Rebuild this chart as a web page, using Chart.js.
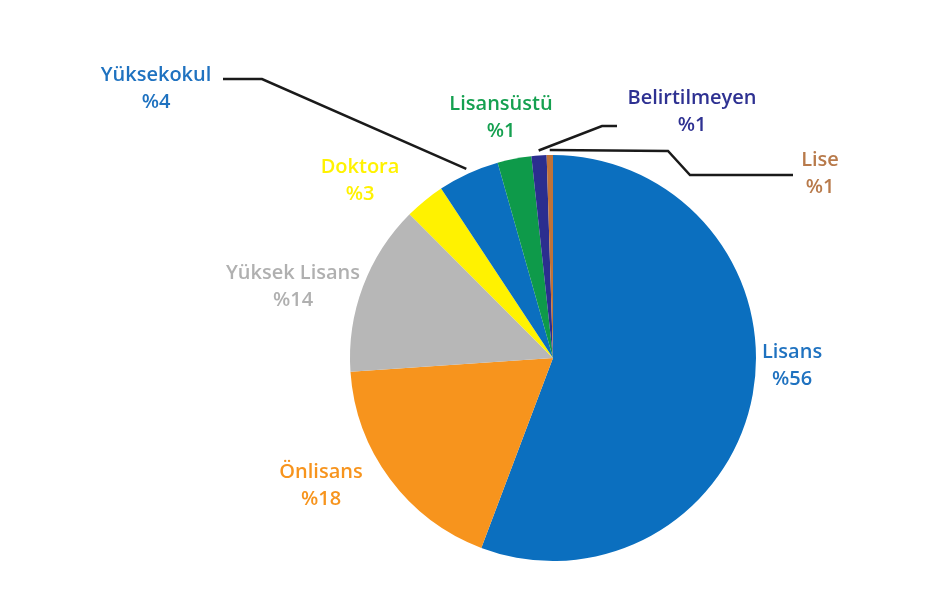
<!DOCTYPE html>
<html>
<head>
<meta charset="utf-8">
<script src="https://cdn.jsdelivr.net/npm/chart.js@4/dist/chart.umd.min.js"></script>
<style>
    html, body { margin: 0; padding: 0; background: #fff; }
    .wrap { width: 942px; height: 597px; position: relative; }
</style>
</head>
<body>
<div class="wrap"><canvas id="eduChart"></canvas></div>
<script>
// slices, clockwise from the top
var labels = ["Lisans", "Önlisans", "Yüksek Lisans", "Doktora", "Yüksekokul", "Lisansüstü", "Belirtilmeyen", "Lise"];
var values = [55.8, 18.2, 13.6, 3.2, 4.9, 2.7, 1.2, 0.5];
var shownPct = ["%56", "%18", "%14", "%3", "%4", "%1", "%1", "%1"];
var sliceColors = ["#0b6fbf", "#f7941d", "#b7b7b7", "#fff200", "#0b6fbf", "#0e9a4a", "#2b2e8f", "#c07238"];
var textColors = ["#1f72c0", "#f7941d", "#b0b0b0", "#fff200", "#1f72c0", "#15a050", "#2e3192", "#b87a4b"];

// label centre (first line) and leader line bends, by slice index
var labelPos = [
    [792, 352], [321, 472], [293, 273], [360, 167],
    [156, 75], [501, 104], [692, 98], [820, 160],
];
var leaders = {
    4: [[223, 79], [262, 79]],
    6: [[617, 126], [602, 126]],
    7: [[793, 175], [690, 175], [668, 151]],
};

var labelPlugin = {
    id: "labelPlugin",
    afterDraw: function (chart) {
        var ctx = chart.ctx;
        var arcs = chart.getDatasetMeta(0).data;
        ctx.save();

        // leader lines
        ctx.strokeStyle = "#1a1a1a";
        ctx.lineWidth = 2.5;
        Object.keys(leaders).forEach(function (k) {
            var arc = arcs[k];
            var mid = (arc.startAngle + arc.endAngle) / 2;
            var r = arc.outerRadius + 5;
            var pts = leaders[k];
            ctx.beginPath();
            ctx.moveTo(pts[0][0], pts[0][1]);
            for (var i = 1; i < pts.length; i++) ctx.lineTo(pts[i][0], pts[i][1]);
            ctx.lineTo(arc.x + Math.cos(mid) * r, arc.y + Math.sin(mid) * r);
            ctx.stroke();
        });

        // texts
        ctx.font = "600 20px 'Open Sans'";
        ctx.textAlign = "center";
        ctx.textBaseline = "middle";
        labels.forEach(function (name, i) {
            var p = labelPos[i];
            ctx.fillStyle = textColors[i];
            ctx.fillText(name, p[0], p[1]);
            ctx.fillText(shownPct[i], p[0], p[1] + 27);
        });
        ctx.restore();
    },
};

var eduChartElem = document.getElementById("eduChart");
var eduChart = new Chart(eduChartElem, {
    type: "pie",
    data: {
        labels: labels,
        datasets: [
            {
                data: values,
                backgroundColor: sliceColors,
                borderWidth: 0,
            },
        ],
    },
    options: {
        responsive: true,
        maintainAspectRatio: false,
        animation: false,
        layout: {
            padding: { left: 350, right: 186, top: 155, bottom: 36 },
        },
        plugins: {
            legend: { display: false },
            tooltip: { enabled: false },
        },
    },
    plugins: [labelPlugin],
});
</script>
</body>
</html>
